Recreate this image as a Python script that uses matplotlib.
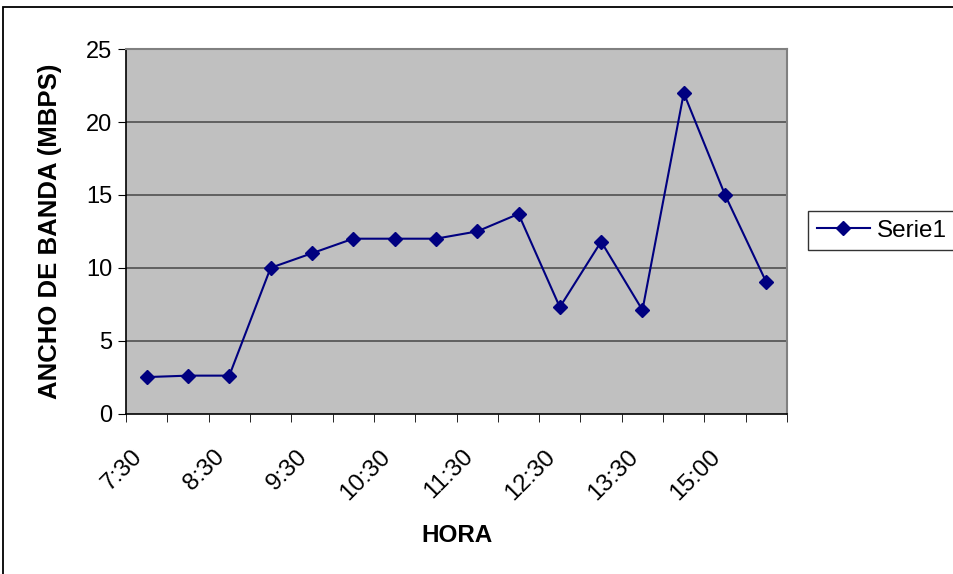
#!/usr/bin/env python3

import numpy as np
from matplotlib import pyplot as plt
from matplotlib.patches import Rectangle
from matplotlib.transforms import ScaledTranslation

hora = ['7:30', '8:00', '8:30', '9:00', '9:30', '10:00', '10:30', '11:00',
        '11:30', '12:00', '12:30', '13:00', '13:30', '14:30', '15:00', '15:30']
ancho = [2.5, 2.6, 2.6, 10, 11, 12, 12, 12, 12.5, 13.7, 7.3, 11.8, 7.1, 22, 15, 9]
yticks = [0, 5, 10, 15, 20, 25]

plt.rcParams['font.family'] = ['Liberation Sans', 'DejaVu Sans']

fig = plt.figure(figsize=(9.54, 5.74), dpi=100)
ax = fig.add_axes([0.1321, 0.2796, 0.6929, 0.6345])

# marco exterior del grafico
fig.patches.append(Rectangle((3/954, -0.1), 1.1, 1 - 7/574 + 0.1, transform=fig.transFigure,
                             fill=False, edgecolor='black', lw=1.3))

ax.set_facecolor('#C0C0C0')
x = np.arange(len(hora))
ax.plot(x, ancho, color='#000080', lw=1.5, marker='D', markersize=7, label='Serie1')

ax.set_xlim(-0.5, len(hora) - 0.5)
ax.set_ylim(0, 25)
ax.set_yticks(yticks)
for v in yticks[1:-1]:
    ax.axhline(v, color='#505050', lw=1.2, zorder=1)

ax.set_xticks(x[::2])
ax.set_xticklabels(hora[::2], rotation=45, ha='right', va='top', fontsize=17.5)
shift = ScaledTranslation(-11/100, 0, fig.dpi_scale_trans)
for lab in ax.get_xticklabels():
    lab.set_transform(lab.get_transform() + shift)
ax.set_xticks(np.arange(-0.5, len(hora)), minor=True)
ax.tick_params(axis='x', which='major', length=0, pad=23)
ax.tick_params(axis='x', which='minor', length=6, direction='out', color='black')
ax.tick_params(axis='y', length=6, direction='out', labelsize=17, pad=4)

for s in ['top', 'right']:
    ax.spines[s].set_color('#808080')
    ax.spines[s].set_linewidth(1.5)
for s in ['left', 'bottom']:
    ax.spines[s].set_color('black')
    ax.spines[s].set_linewidth(1.2)

ax.set_xlabel('HORA', fontsize=17.5, fontweight='bold', labelpad=14)
ax.set_ylabel('ANCHO DE BANDA (MBPS)', fontsize=18.5, fontweight='bold', labelpad=17)

leg = ax.legend(loc='center left', bbox_to_anchor=(808/954, 1 - 230.5/574), bbox_transform=fig.transFigure,
                fontsize=17.5, frameon=True, fancybox=False, borderpad=0.35, handlelength=2.2,
                handletextpad=0.3, borderaxespad=0)
leg.get_frame().set_edgecolor('black')
leg.get_frame().set_linewidth(1.0)

fig.savefig('out.png', dpi=100)
